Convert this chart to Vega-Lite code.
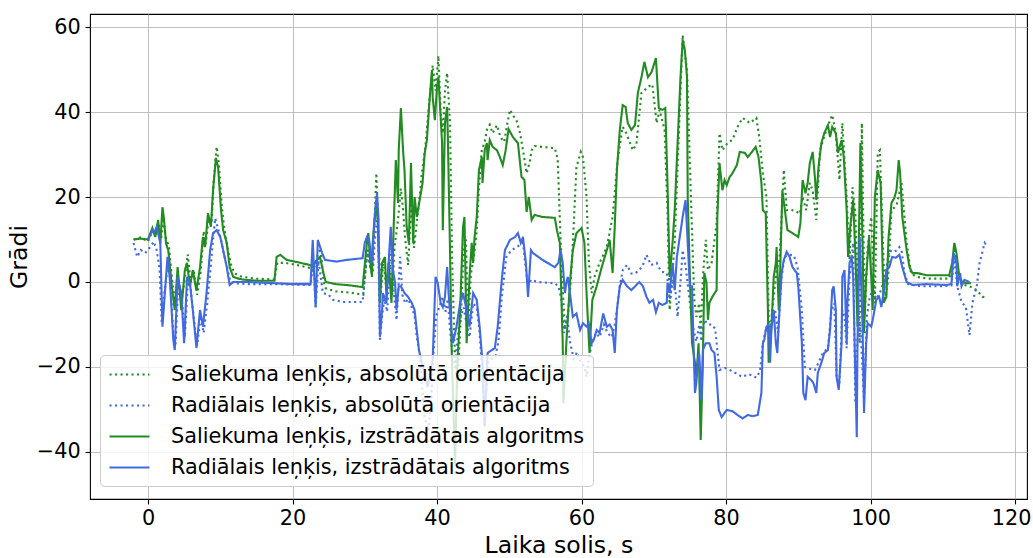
{
  "$schema": "https://vega.github.io/schema/vega-lite/v6.json",
  "width": 937,
  "height": 485,
  "autosize": {"type": "none"},
  "padding": {"left": 90, "top": 14, "right": 6, "bottom": 59},
  "background": "white",
  "config": {
    "font": "DejaVu Sans",
    "view": {"stroke": "#000000", "strokeWidth": 1.1},
    "axis": {
      "grid": true, "gridColor": "#b0b0b0", "gridWidth": 0.8, "domain": false,
      "tickColor": "#000000", "tickWidth": 1.1, "tickSize": 4.9, "labelPadding": 4.9,
      "labelFontSize": 20.8, "labelColor": "#000000", "labelFont": "DejaVu Sans",
      "titleFont": "DejaVu Sans", "titleFontSize": 23.6, "titleFontWeight": "normal",
      "titleColor": "#000000", "titlePadding": 5
    }
  },
  "datasets": {
    "gd": [
      {"t":-2,"v":10},{"t":-1,"v":10.5},{"t":0,"v":9.5},{"t":0.6,"v":12},{"t":1,"v":11},{"t":1.5,"v":13.5},{"t":1.8,"v":10},{"t":2.1,"v":15},{"t":2.5,"v":10},{"t":2.9,"v":8.5},{"t":3.3,"v":1},{"t":3.7,"v":-5},{"t":4.1,"v":2},{"t":4.6,"v":-5},{"t":5.1,"v":1},{"t":5.5,"v":6.5},{"t":5.9,"v":0},{"t":6.3,"v":3},{"t":6.8,"v":-3},{"t":7.3,"v":2.5},{"t":7.7,"v":12},{"t":8.0,"v":9},{"t":8.4,"v":15},{"t":8.8,"v":14},{"t":9.1,"v":24},{"t":9.5,"v":31.8},{"t":9.8,"v":28},{"t":10.2,"v":18},{"t":10.6,"v":12},{"t":11.0,"v":8},{"t":11.5,"v":4},{"t":12,"v":2},{"t":13,"v":1.2},{"t":15,"v":0.8},{"t":17.5,"v":0.6},{"t":17.9,"v":4.5},{"t":19,"v":4.5},{"t":20.6,"v":4},{"t":22.4,"v":3.3},{"t":22.9,"v":2.5},{"t":23.4,"v":6},{"t":23.9,"v":8},{"t":24.3,"v":0},{"t":24.6,"v":-1.5},{"t":26,"v":-2.2},{"t":28,"v":-2.5},{"t":29.8,"v":-3},{"t":30.4,"v":8},{"t":30.7,"v":4},{"t":31.0,"v":2},{"t":31.3,"v":12},{"t":31.6,"v":25.6},{"t":31.9,"v":12},{"t":32.2,"v":-3},{"t":32.6,"v":5},{"t":33.0,"v":-2},{"t":33.4,"v":5},{"t":33.8,"v":-3},{"t":34.1,"v":8},{"t":34.6,"v":14.6},{"t":35.0,"v":22},{"t":35.3,"v":17},{"t":35.6,"v":10},{"t":36.0,"v":4},{"t":36.5,"v":20},{"t":36.8,"v":8},{"t":37.2,"v":14},{"t":37.6,"v":20},{"t":37.9,"v":25.6},{"t":38.4,"v":32},{"t":38.8,"v":40},{"t":39.4,"v":51},{"t":39.8,"v":45},{"t":40.2,"v":53.2},{"t":40.5,"v":40},{"t":40.8,"v":35},{"t":41.1,"v":45},{"t":41.4,"v":49.2},{"t":41.8,"v":37.4},{"t":42.1,"v":5},{"t":42.4,"v":-14},{"t":42.8,"v":-25},{"t":43.3,"v":-8},{"t":43.7,"v":8},{"t":44.0,"v":10},{"t":44.3,"v":-10},{"t":44.7,"v":2},{"t":45.1,"v":6},{"t":45.5,"v":12},{"t":45.8,"v":22},{"t":46.2,"v":31},{"t":46.6,"v":33},{"t":46.9,"v":35.8},{"t":47.3,"v":37},{"t":47.7,"v":35},{"t":48.3,"v":36.9},{"t":48.8,"v":34},{"t":49.3,"v":33},{"t":49.7,"v":37},{"t":50.1,"v":40.5},{"t":50.6,"v":39},{"t":51.0,"v":38},{"t":51.5,"v":35},{"t":52.0,"v":30},{"t":52.4,"v":25.6},{"t":52.8,"v":28},{"t":53.1,"v":31},{"t":53.5,"v":32},{"t":54.5,"v":31.8},{"t":56.3,"v":31.5},{"t":56.7,"v":29},{"t":57.0,"v":15},{"t":57.3,"v":1.2},{"t":57.7,"v":-10.5},{"t":58.1,"v":-8},{"t":58.5,"v":0},{"t":58.8,"v":9.2},{"t":59.3,"v":27},{"t":59.9,"v":30.6},{"t":60.2,"v":29.4},{"t":60.7,"v":20},{"t":61.0,"v":5.2},{"t":61.4,"v":-2.6},{"t":61.8,"v":1.2},{"t":62.5,"v":4.5},{"t":63.5,"v":8.2},{"t":64.3,"v":15.3},{"t":65.0,"v":28.7},{"t":65.7,"v":36.5},{"t":66.2,"v":35},{"t":67.1,"v":31},{"t":67.6,"v":32.5},{"t":68.3,"v":44.5},{"t":69.2,"v":45.9},{"t":69.8,"v":46.5},{"t":70.4,"v":37.4},{"t":70.8,"v":40.5},{"t":71.5,"v":35.8},{"t":71.9,"v":16.9},{"t":72.2,"v":-6.6},{"t":72.9,"v":9.2},{"t":73.6,"v":40.5},{"t":74.0,"v":58.1},{"t":74.6,"v":49.9},{"t":75.2,"v":16.9},{"t":75.6,"v":-4},{"t":75.9,"v":-8.2},{"t":76.3,"v":-5},{"t":76.5,"v":-12},{"t":76.8,"v":1.2},{"t":77.2,"v":9.9},{"t":77.5,"v":2.8},{"t":78.0,"v":4.5},{"t":78.7,"v":13.9},{"t":79.1,"v":35},{"t":79.5,"v":31},{"t":80.2,"v":32.7},{"t":80.9,"v":33.5},{"t":81.6,"v":36.5},{"t":82.3,"v":38.6},{"t":83.3,"v":37.4},{"t":84.2,"v":38.6},{"t":84.6,"v":34.1},{"t":85.1,"v":25.6},{"t":85.6,"v":20},{"t":85.8,"v":1.2},{"t":86.0,"v":-14.4},{"t":86.4,"v":-6.6},{"t":87.0,"v":2.8},{"t":87.4,"v":5.2},{"t":87.7,"v":15.3},{"t":88.0,"v":26.4},{"t":88.4,"v":16.9},{"t":89.0,"v":17},{"t":89.8,"v":16.5},{"t":90.2,"v":16},{"t":90.6,"v":20},{"t":91.1,"v":16.9},{"t":91.6,"v":23.3},{"t":92.0,"v":21.5},{"t":92.5,"v":14.6},{"t":93.0,"v":31},{"t":93.9,"v":35.8},{"t":94.7,"v":39.3},{"t":95.2,"v":35},{"t":95.7,"v":24},{"t":96.1,"v":37.4},{"t":96.7,"v":20},{"t":97.1,"v":5.2},{"t":97.5,"v":22.3},{"t":97.9,"v":16},{"t":98.5,"v":-14.4},{"t":98.8,"v":37.4},{"t":99.2,"v":-8},{"t":99.6,"v":8},{"t":100.1,"v":15.3},{"t":100.6,"v":-5},{"t":101.0,"v":30.4},{"t":101.3,"v":31},{"t":101.7,"v":10},{"t":102.0,"v":-4},{"t":102.4,"v":0},{"t":102.9,"v":16.9},{"t":103.6,"v":18},{"t":104.3,"v":23.3},{"t":105.0,"v":9.2},{"t":105.6,"v":2},{"t":106.4,"v":1.2},{"t":108,"v":0.8},{"t":110.9,"v":0.8},{"t":111.3,"v":4},{"t":111.6,"v":8.2},{"t":112.0,"v":2},{"t":112.6,"v":-0.5},{"t":113.7,"v":-1},{"t":114.7,"v":-1.9},{"t":115.5,"v":-3.5},{"t":116.2,"v":-3.6}
    ],
    "bd": [
      {"t":-2,"v":9.2},{"t":-1.5,"v":5.9},{"t":-1,"v":7.5},{"t":-0.4,"v":6.8},{"t":0.3,"v":8.2},{"t":0.8,"v":9.5},{"t":1.2,"v":7.5},{"t":1.6,"v":3},{"t":1.9,"v":-9.7},{"t":2.3,"v":-2},{"t":2.8,"v":4.5},{"t":3.1,"v":0},{"t":3.5,"v":-12},{"t":3.8,"v":-15},{"t":4.2,"v":0},{"t":4.7,"v":-4},{"t":5.1,"v":-13},{"t":5.5,"v":0},{"t":5.9,"v":-1.5},{"t":6.3,"v":-8},{"t":6.8,"v":-15},{"t":7.3,"v":-8},{"t":7.7,"v":-12},{"t":8.2,"v":-5},{"t":8.7,"v":4},{"t":9.0,"v":10},{"t":9.3,"v":15},{"t":9.7,"v":12.5},{"t":10.1,"v":10},{"t":10.5,"v":6.5},{"t":11.0,"v":3},{"t":11.4,"v":0},{"t":12,"v":-0.3},{"t":14,"v":-0.5},{"t":17.6,"v":-0.5},{"t":20,"v":-0.6},{"t":22.5,"v":-0.7},{"t":22.9,"v":5},{"t":23.2,"v":-6},{"t":23.6,"v":5},{"t":24.2,"v":-2.6},{"t":25,"v":-3},{"t":25.6,"v":-4.2},{"t":27,"v":-4.7},{"t":29.7,"v":-4.7},{"t":30.1,"v":3},{"t":30.4,"v":7},{"t":30.8,"v":3},{"t":31.1,"v":2},{"t":31.4,"v":10},{"t":31.8,"v":16},{"t":32.1,"v":-14},{"t":32.4,"v":-8},{"t":32.7,"v":-4},{"t":33.1,"v":-7},{"t":33.4,"v":2},{"t":33.7,"v":8},{"t":34.0,"v":-2},{"t":34.4,"v":-9},{"t":34.9,"v":5.9},{"t":35.2,"v":-3},{"t":35.6,"v":-5},{"t":36.0,"v":-4},{"t":36.5,"v":-6},{"t":36.9,"v":-8},{"t":37.2,"v":-13},{"t":37.5,"v":-16},{"t":37.9,"v":-24},{"t":38.3,"v":-32},{"t":38.8,"v":-35},{"t":39.2,"v":-28},{"t":39.5,"v":-17},{"t":39.9,"v":-8},{"t":40.3,"v":-6},{"t":40.8,"v":-3.5},{"t":41.2,"v":-7},{"t":41.5,"v":-4},{"t":41.8,"v":-11.3},{"t":42.1,"v":-16},{"t":42.5,"v":-20},{"t":42.9,"v":-12},{"t":43.3,"v":-8},{"t":43.7,"v":-6},{"t":44.1,"v":-10},{"t":44.5,"v":-13},{"t":45.0,"v":-5},{"t":45.5,"v":-6},{"t":45.9,"v":-12},{"t":46.3,"v":-22},{"t":46.6,"v":-34},{"t":47.0,"v":-19},{"t":47.6,"v":-18},{"t":48.1,"v":-17.5},{"t":48.5,"v":-14},{"t":49.0,"v":-3},{"t":49.6,"v":5.9},{"t":50.3,"v":7.5},{"t":51.0,"v":8.2},{"t":51.9,"v":9.2},{"t":52.3,"v":3},{"t":52.6,"v":-1},{"t":53.0,"v":0.5},{"t":54,"v":0},{"t":56.3,"v":-0.3},{"t":56.8,"v":-1},{"t":57.2,"v":-4},{"t":57.6,"v":-12},{"t":58.0,"v":-8},{"t":58.4,"v":-14},{"t":58.9,"v":-18},{"t":59.4,"v":-16.5},{"t":59.9,"v":-19},{"t":60.4,"v":-20},{"t":60.7,"v":-22.3},{"t":61.0,"v":-18},{"t":61.5,"v":-14},{"t":62.0,"v":-12},{"t":62.5,"v":-13},{"t":63.1,"v":-10},{"t":63.6,"v":-12},{"t":64.2,"v":-13},{"t":64.6,"v":-10},{"t":64.9,"v":-6.6},{"t":65.3,"v":-1},{"t":65.7,"v":2.8},{"t":66.3,"v":4},{"t":66.9,"v":2},{"t":67.4,"v":2},{"t":68.0,"v":2.8},{"t":68.5,"v":4},{"t":69.0,"v":6.4},{"t":69.6,"v":4},{"t":70.4,"v":4.5},{"t":71.0,"v":2.5},{"t":71.8,"v":2.1},{"t":72.2,"v":-4.2},{"t":72.6,"v":0},{"t":73.0,"v":-2},{"t":73.3,"v":-8.2},{"t":73.7,"v":0},{"t":74.0,"v":7.5},{"t":74.4,"v":4},{"t":74.8,"v":-2},{"t":75.2,"v":-8},{"t":75.6,"v":-12},{"t":75.9,"v":-14},{"t":76.3,"v":-10},{"t":76.6,"v":-14},{"t":77.0,"v":-8.9},{"t":77.5,"v":-10},{"t":78.0,"v":-10},{"t":78.5,"v":-11},{"t":78.8,"v":-16},{"t":79.1,"v":-20.7},{"t":79.8,"v":-20.2},{"t":80.5,"v":-20.7},{"t":81.4,"v":-21.5},{"t":82.2,"v":-22.3},{"t":83.2,"v":-21.7},{"t":84.2,"v":-22.5},{"t":84.7,"v":-21},{"t":85.1,"v":-14.4},{"t":85.6,"v":-10.5},{"t":86.1,"v":-11.5},{"t":86.4,"v":-9},{"t":86.8,"v":-6.6},{"t":87.2,"v":-12},{"t":87.7,"v":1.2},{"t":88.1,"v":5.9},{"t":88.8,"v":6.4},{"t":89.4,"v":6.2},{"t":89.9,"v":3.5},{"t":90.5,"v":-6.6},{"t":90.9,"v":-20},{"t":91.6,"v":-20.4},{"t":92.3,"v":-20.7},{"t":92.8,"v":-19},{"t":93.4,"v":-16.7},{"t":94.1,"v":-15.6},{"t":94.6,"v":-6.6},{"t":95.0,"v":-5},{"t":95.3,"v":-22.3},{"t":95.7,"v":-24},{"t":96.1,"v":-6.6},{"t":96.4,"v":-8},{"t":96.7,"v":-15.6},{"t":97.1,"v":1.2},{"t":97.6,"v":9.2},{"t":97.9,"v":-28.5},{"t":98.2,"v":-13},{"t":98.6,"v":-10},{"t":99.1,"v":-27.8},{"t":99.5,"v":-8},{"t":99.9,"v":-3.5},{"t":100.3,"v":-2},{"t":100.8,"v":-4},{"t":101.3,"v":-2.6},{"t":102.0,"v":1},{"t":102.6,"v":7.5},{"t":103.1,"v":7},{"t":103.7,"v":7.5},{"t":104.0,"v":8.2},{"t":104.3,"v":7.5},{"t":104.7,"v":2.1},{"t":105.2,"v":-0.5},{"t":106.9,"v":-1},{"t":109.7,"v":-1},{"t":111.2,"v":-0.8},{"t":111.6,"v":5.9},{"t":112.0,"v":-1},{"t":112.6,"v":-4.7},{"t":113.2,"v":-5.9},{"t":113.7,"v":-12.5},{"t":114.1,"v":-4.9},{"t":114.7,"v":-1},{"t":115.1,"v":4.5},{"t":115.8,"v":9.2},{"t":116.1,"v":8.5}
    ],
    "gs": [
      {"t":-2,"v":10},{"t":-1,"v":10.2},{"t":0,"v":10},{"t":0.6,"v":12.7},{"t":1,"v":10.6},{"t":1.4,"v":14.6},{"t":1.7,"v":9},{"t":2.0,"v":17.6},{"t":2.2,"v":15},{"t":2.5,"v":9},{"t":2.8,"v":7.5},{"t":3.3,"v":-1},{"t":3.7,"v":-6.6},{"t":4.1,"v":3.5},{"t":4.6,"v":-6.6},{"t":5.1,"v":2.8},{"t":5.4,"v":4.5},{"t":5.8,"v":-1},{"t":6.2,"v":2.8},{"t":6.7,"v":-2},{"t":7.2,"v":3.5},{"t":7.6,"v":10.6},{"t":7.9,"v":8.2},{"t":8.3,"v":16.2},{"t":8.7,"v":13},{"t":9.0,"v":21.6},{"t":9.4,"v":29.2},{"t":9.7,"v":27},{"t":10.1,"v":17},{"t":10.4,"v":12.2},{"t":10.9,"v":9.2},{"t":11.3,"v":3.5},{"t":11.8,"v":1.2},{"t":12.3,"v":0.9},{"t":13,"v":0.6},{"t":15,"v":0.3},{"t":17.5,"v":0.3},{"t":17.8,"v":5.9},{"t":18.3,"v":6.4},{"t":19.2,"v":5.2},{"t":20.6,"v":4.7},{"t":22.4,"v":4},{"t":22.8,"v":3.5},{"t":23.3,"v":5},{"t":23.8,"v":5.9},{"t":24.3,"v":2},{"t":24.6,"v":0},{"t":26,"v":-0.5},{"t":28,"v":-0.8},{"t":29.7,"v":-1.2},{"t":30.3,"v":9.2},{"t":30.5,"v":11.5},{"t":30.7,"v":5.9},{"t":31,"v":1.2},{"t":31.1,"v":9.2},{"t":31.6,"v":19.3},{"t":31.8,"v":13.9},{"t":32.1,"v":-4.9},{"t":32.4,"v":4.5},{"t":32.8,"v":5.9},{"t":33.0,"v":-3.5},{"t":33.3,"v":4.5},{"t":33.7,"v":-4.9},{"t":34.0,"v":13},{"t":34.3,"v":28.7},{"t":34.6,"v":18.6},{"t":34.7,"v":31},{"t":35.0,"v":40.9},{"t":35.3,"v":31},{"t":35.5,"v":26.3},{"t":35.8,"v":13},{"t":36.1,"v":9.2},{"t":36.4,"v":28},{"t":36.7,"v":9.2},{"t":36.9,"v":20},{"t":37.2,"v":15.3},{"t":37.6,"v":19.3},{"t":38.0,"v":23.3},{"t":38.3,"v":30.4},{"t":38.6,"v":33.4},{"t":39.0,"v":43.5},{"t":39.3,"v":49.9},{"t":39.4,"v":43.5},{"t":39.7,"v":38.1},{"t":40.0,"v":45.9},{"t":40.2,"v":48.2},{"t":40.7,"v":32.7},{"t":40.8,"v":12.2},{"t":41.1,"v":37.4},{"t":41.4,"v":41.2},{"t":41.5,"v":34.1},{"t":41.8,"v":7.5},{"t":42.0,"v":-14.4},{"t":42.5,"v":-43},{"t":42.8,"v":-20},{"t":43.2,"v":-6.6},{"t":43.6,"v":13},{"t":43.8,"v":15.3},{"t":44.1,"v":-14.4},{"t":44.5,"v":1.2},{"t":44.8,"v":9.2},{"t":45.0,"v":4.5},{"t":45.2,"v":10.6},{"t":45.5,"v":15.3},{"t":45.8,"v":26.3},{"t":46.2,"v":29.4},{"t":46.3,"v":23.3},{"t":46.6,"v":31},{"t":46.9,"v":32.7},{"t":47.0,"v":28.7},{"t":47.3,"v":33.4},{"t":47.7,"v":31.8},{"t":48.3,"v":31},{"t":48.7,"v":29.4},{"t":49.1,"v":27.5},{"t":49.5,"v":31},{"t":49.9,"v":36},{"t":50.5,"v":34.1},{"t":51.2,"v":32.7},{"t":51.7,"v":24.7},{"t":52.1,"v":24},{"t":52.4,"v":16.5},{"t":52.7,"v":20},{"t":53.1,"v":14.6},{"t":53.5,"v":15.8},{"t":54.6,"v":15.3},{"t":56.3,"v":15.1},{"t":56.6,"v":12.2},{"t":57.0,"v":9.2},{"t":57.4,"v":-14.4},{"t":57.5,"v":-28.5},{"t":57.9,"v":-14.4},{"t":58.4,"v":-0.2},{"t":58.8,"v":7.5},{"t":59.3,"v":11.5},{"t":60.0,"v":12.7},{"t":60.4,"v":9.2},{"t":60.7,"v":-2.6},{"t":61.1,"v":-16.7},{"t":61.5,"v":-4.2},{"t":62.1,"v":-1},{"t":62.8,"v":3.5},{"t":63.5,"v":7.5},{"t":63.9,"v":9.9},{"t":64.3,"v":2.1},{"t":64.6,"v":13},{"t":64.9,"v":26.4},{"t":65.3,"v":35.8},{"t":65.7,"v":41.6},{"t":66.1,"v":41.2},{"t":66.4,"v":37.4},{"t":66.9,"v":35.8},{"t":67.4,"v":36.9},{"t":67.8,"v":44.5},{"t":68.3,"v":48.2},{"t":68.7,"v":51.8},{"t":69.2,"v":48.2},{"t":69.7,"v":49.4},{"t":70.3,"v":52.7},{"t":70.7,"v":40.9},{"t":71.2,"v":40.5},{"t":71.6,"v":40.9},{"t":71.9,"v":23.3},{"t":72.2,"v":1.2},{"t":72.6,"v":9.2},{"t":72.9,"v":16.9},{"t":73.3,"v":32.7},{"t":73.7,"v":48.2},{"t":74.0,"v":56.9},{"t":74.3,"v":54.6},{"t":74.6,"v":48.2},{"t":74.7,"v":20},{"t":75.0,"v":1.2},{"t":75.3,"v":-14.4},{"t":75.7,"v":-19},{"t":75.9,"v":-22.3},{"t":76.2,"v":-14.4},{"t":76.5,"v":-37.2},{"t":76.8,"v":-18.4},{"t":77.0,"v":2.1},{"t":77.3,"v":-0.2},{"t":77.5,"v":-8.9},{"t":77.7,"v":-4.9},{"t":78.1,"v":-3.5},{"t":78.7,"v":-1.9},{"t":78.8,"v":15.3},{"t":79.1,"v":28},{"t":79.5,"v":21.6},{"t":79.8,"v":24},{"t":80.1,"v":22.8},{"t":80.5,"v":24.7},{"t":80.9,"v":25.6},{"t":81.5,"v":27.5},{"t":81.9,"v":30.6},{"t":82.6,"v":30.4},{"t":83.0,"v":29.4},{"t":83.5,"v":30.4},{"t":84.1,"v":31.8},{"t":84.5,"v":29.4},{"t":84.9,"v":23.3},{"t":85.1,"v":16.9},{"t":85.5,"v":16.2},{"t":85.8,"v":-6.6},{"t":85.9,"v":-19},{"t":86.3,"v":-10.5},{"t":86.6,"v":1.2},{"t":86.9,"v":4.5},{"t":87.0,"v":8.2},{"t":87.3,"v":-6.6},{"t":87.5,"v":2.8},{"t":87.8,"v":21.6},{"t":88.2,"v":16.2},{"t":88.5,"v":12.2},{"t":89.2,"v":11.5},{"t":90.0,"v":10.6},{"t":90.3,"v":13.9},{"t":90.6,"v":24},{"t":91.0,"v":20.9},{"t":91.3,"v":23.3},{"t":91.6,"v":28},{"t":92.0,"v":30.6},{"t":92.3,"v":24.7},{"t":92.5,"v":19.3},{"t":92.8,"v":27},{"t":93.2,"v":32.7},{"t":93.6,"v":35},{"t":94.1,"v":36.9},{"t":94.4,"v":34.1},{"t":94.7,"v":36.5},{"t":95.2,"v":35},{"t":95.5,"v":30.4},{"t":96.0,"v":33.4},{"t":96.3,"v":29.4},{"t":96.7,"v":16.9},{"t":96.9,"v":5.9},{"t":97.2,"v":13},{"t":97.6,"v":19.3},{"t":97.9,"v":6.8},{"t":98.2,"v":-10.5},{"t":98.6,"v":32.7},{"t":98.9,"v":9.2},{"t":99.1,"v":-12},{"t":99.4,"v":1.2},{"t":99.8,"v":10.6},{"t":100.1,"v":1.2},{"t":100.3,"v":-6.6},{"t":100.6,"v":20},{"t":101.0,"v":26.3},{"t":101.4,"v":23.3},{"t":101.8,"v":-4.9},{"t":102.2,"v":-3.5},{"t":102.5,"v":10.6},{"t":102.9,"v":18.6},{"t":103.3,"v":19.8},{"t":103.6,"v":21.6},{"t":103.9,"v":28.7},{"t":104.1,"v":25.6},{"t":104.4,"v":15.3},{"t":105.0,"v":7.5},{"t":105.4,"v":3.5},{"t":105.8,"v":2.1},{"t":106.5,"v":2.1},{"t":107.7,"v":1.6},{"t":109.1,"v":1.6},{"t":110.9,"v":1.6},{"t":111.3,"v":4.5},{"t":111.6,"v":9.2},{"t":111.9,"v":6.8},{"t":112.3,"v":1.2},{"t":112.7,"v":0},{"t":113.3,"v":-0.3},{"t":113.9,"v":-0.3}
    ],
    "bs": [
      {"t":0,"v":10},{"t":0.6,"v":12.2},{"t":0.9,"v":11.8},{"t":1.2,"v":13},{"t":1.7,"v":9.2},{"t":2.0,"v":-10.5},{"t":2.4,"v":-1},{"t":2.7,"v":5.9},{"t":3.0,"v":1.2},{"t":3.5,"v":-13.6},{"t":3.7,"v":-16},{"t":4.1,"v":1.2},{"t":4.6,"v":-2.6},{"t":5.0,"v":-14.4},{"t":5.4,"v":1.2},{"t":5.8,"v":-0.2},{"t":6.2,"v":-6.6},{"t":6.7,"v":-15.5},{"t":7.2,"v":-6.6},{"t":7.6,"v":-10.5},{"t":8.1,"v":-2.6},{"t":8.6,"v":7.5},{"t":9.0,"v":11.5},{"t":9.5,"v":12.2},{"t":10.0,"v":10.6},{"t":10.4,"v":7.5},{"t":10.9,"v":3.5},{"t":11.3,"v":-0.7},{"t":11.8,"v":0},{"t":14,"v":0},{"t":17.6,"v":-0.3},{"t":20,"v":-0.5},{"t":22.5,"v":-0.5},{"t":22.8,"v":9.9},{"t":23.2,"v":-5.9},{"t":23.5,"v":9.9},{"t":24.1,"v":6.8},{"t":24.5,"v":5.2},{"t":26.1,"v":4.8},{"t":27.5,"v":5.2},{"t":29.7,"v":5.6},{"t":30.0,"v":9.2},{"t":30.3,"v":10.6},{"t":30.6,"v":10},{"t":31.0,"v":4.5},{"t":31.3,"v":13.9},{"t":31.7,"v":20.9},{"t":31.9,"v":15},{"t":32.1,"v":-12.9},{"t":32.4,"v":-6.6},{"t":32.5,"v":-2.6},{"t":33.0,"v":-4.9},{"t":33.3,"v":4.5},{"t":33.6,"v":13},{"t":33.9,"v":2.8},{"t":34.2,"v":-0.2},{"t":34.4,"v":-6.6},{"t":34.7,"v":-1},{"t":35.0,"v":-1},{"t":35.5,"v":-2.6},{"t":36.0,"v":-3.5},{"t":36.5,"v":-4.9},{"t":36.9,"v":-6.6},{"t":37.2,"v":-11.3},{"t":37.5,"v":-16},{"t":37.9,"v":-19},{"t":38.3,"v":-22},{"t":38.7,"v":-24.7},{"t":39.4,"v":-18.4},{"t":39.8,"v":1.2},{"t":40.1,"v":-0.2},{"t":40.5,"v":-4.9},{"t":40.8,"v":-5.9},{"t":41.1,"v":-3.5},{"t":41.4,"v":3.5},{"t":41.6,"v":-2.6},{"t":42.0,"v":-11.3},{"t":42.2,"v":-14.4},{"t":42.7,"v":-10.5},{"t":43.2,"v":-4.9},{"t":43.6,"v":-2.6},{"t":44.1,"v":-6.6},{"t":44.5,"v":-10.5},{"t":45.0,"v":-2.6},{"t":45.5,"v":-4.2},{"t":45.9,"v":-10.5},{"t":46.3,"v":-19},{"t":46.6,"v":-34},{"t":47.0,"v":-16.7},{"t":47.6,"v":-16},{"t":48.0,"v":-15.6},{"t":48.4,"v":-10.5},{"t":49.0,"v":1.2},{"t":49.4,"v":7.5},{"t":50.1,"v":9.9},{"t":50.8,"v":10.6},{"t":51.2,"v":11.5},{"t":51.6,"v":9.2},{"t":51.9,"v":10.6},{"t":52.3,"v":4.5},{"t":52.6,"v":-3.5},{"t":53.0,"v":7.5},{"t":53.3,"v":6.8},{"t":54.6,"v":5.2},{"t":56.3,"v":3.5},{"t":56.8,"v":4.5},{"t":57.1,"v":7.5},{"t":57.4,"v":4.5},{"t":57.7,"v":-2.6},{"t":57.9,"v":-0.2},{"t":58.1,"v":1.2},{"t":58.4,"v":-2.6},{"t":58.8,"v":-8.2},{"t":59.3,"v":-7.4},{"t":59.8,"v":-11.3},{"t":60.2,"v":-9.7},{"t":60.7,"v":-10.5},{"t":61.0,"v":-9.7},{"t":61.4,"v":-14.4},{"t":61.7,"v":-13.6},{"t":62.1,"v":-11.3},{"t":62.5,"v":-12},{"t":63.0,"v":-7.4},{"t":63.5,"v":-10.5},{"t":63.9,"v":-10},{"t":64.3,"v":-11.3},{"t":64.6,"v":-16.7},{"t":64.9,"v":-6.6},{"t":65.3,"v":-1},{"t":65.7,"v":0.5},{"t":66.3,"v":-1},{"t":66.9,"v":-1.9},{"t":67.6,"v":-0.7},{"t":68.0,"v":0},{"t":68.5,"v":-1},{"t":69.0,"v":-3.5},{"t":69.4,"v":-4.9},{"t":69.9,"v":-4.2},{"t":70.3,"v":-7.1},{"t":70.7,"v":-4.9},{"t":71.2,"v":-5.4},{"t":71.8,"v":-4.9},{"t":71.9,"v":-0.2},{"t":72.2,"v":-2.6},{"t":72.6,"v":4.5},{"t":72.9,"v":-1.9},{"t":73.2,"v":5.9},{"t":73.6,"v":10.6},{"t":74.0,"v":15.3},{"t":74.4,"v":19.3},{"t":74.7,"v":9.2},{"t":75.0,"v":-1},{"t":75.3,"v":-1},{"t":75.5,"v":-14.4},{"t":75.7,"v":-26.1},{"t":75.9,"v":-23.8},{"t":76.1,"v":-18.4},{"t":76.3,"v":-17},{"t":76.6,"v":-27.8},{"t":76.8,"v":-16},{"t":77.2,"v":-14.4},{"t":77.7,"v":-14.4},{"t":78.0,"v":-16},{"t":78.4,"v":-16.7},{"t":78.7,"v":-22.3},{"t":79.0,"v":-30.1},{"t":79.4,"v":-31.8},{"t":80.1,"v":-30.1},{"t":80.9,"v":-30.4},{"t":81.6,"v":-31.3},{"t":82.3,"v":-32.1},{"t":83.0,"v":-31.3},{"t":83.7,"v":-31.6},{"t":84.4,"v":-31.3},{"t":84.9,"v":-26.1},{"t":85.1,"v":-14.4},{"t":85.3,"v":-13.6},{"t":85.6,"v":-10.5},{"t":85.9,"v":-10},{"t":86.1,"v":-19},{"t":86.3,"v":-10.5},{"t":86.6,"v":-6.6},{"t":86.9,"v":-14.4},{"t":87.1,"v":-16.7},{"t":87.4,"v":-6.6},{"t":87.7,"v":2.1},{"t":88.0,"v":5.2},{"t":88.4,"v":7.1},{"t":88.8,"v":5.9},{"t":89.2,"v":3.5},{"t":89.8,"v":2.1},{"t":90.0,"v":-1},{"t":90.5,"v":-14.4},{"t":90.7,"v":-26.1},{"t":91.0,"v":-27.8},{"t":91.3,"v":-22.3},{"t":91.8,"v":-23.1},{"t":92.1,"v":-23.8},{"t":92.5,"v":-26.1},{"t":92.7,"v":-21.4},{"t":93.2,"v":-19},{"t":93.6,"v":-16.7},{"t":94.1,"v":-16},{"t":94.4,"v":-11.3},{"t":94.7,"v":-1.9},{"t":94.9,"v":-1},{"t":95.2,"v":-6.6},{"t":95.3,"v":-22.3},{"t":95.6,"v":-25.4},{"t":96.0,"v":-14.4},{"t":96.1,"v":1.2},{"t":96.4,"v":2.8},{"t":96.7,"v":-14.4},{"t":96.8,"v":-4.9},{"t":97.1,"v":4.5},{"t":97.4,"v":5.9},{"t":97.6,"v":1.2},{"t":97.8,"v":-14.4},{"t":98.1,"v":-36.5},{"t":98.2,"v":-14},{"t":98.5,"v":10.6},{"t":98.9,"v":-10.5},{"t":99.1,"v":-30.8},{"t":99.4,"v":-14.4},{"t":99.6,"v":-9.7},{"t":100.1,"v":-10.5},{"t":100.3,"v":-9},{"t":100.8,"v":-4.2},{"t":101.2,"v":-3.5},{"t":101.5,"v":-5.9},{"t":101.8,"v":-2.6},{"t":102.2,"v":2.8},{"t":102.6,"v":3.5},{"t":103.0,"v":5.9},{"t":103.5,"v":5.7},{"t":104.0,"v":6.4},{"t":104.4,"v":3.5},{"t":105.0,"v":0},{"t":105.8,"v":-0.7},{"t":107.7,"v":-0.5},{"t":110.5,"v":-0.7},{"t":111.2,"v":-0.5},{"t":111.5,"v":6.8},{"t":111.9,"v":4.5},{"t":112.0,"v":-1},{"t":112.4,"v":2.1},{"t":112.6,"v":-1},{"t":113.0,"v":0.5},{"t":113.7,"v":0}
    ]
  },
  "encoding": {
    "x": {"field": "t", "type": "quantitative", "scale": {"domain": [-8.03, 121.66], "nice": false, "zero": false}, "axis": {"values": [0, 20, 40, 60, 80, 100, 120], "title": "Laika solis, s", "labelFlush": 15, "labelFlushOffset": 16}},
    "y": {"field": "v", "type": "quantitative", "scale": {"domain": [-51.06, 63.06], "nice": false, "zero": false}, "axis": {"values": [-40, -20, 0, 20, 40, 60], "title": "Grādi"}}
  },
  "layer": [
    {
      "data": {"name": "gd"},
      "mark": {"type": "line", "strokeWidth": 2.1},
      "encoding": {
        "color": {"datum": "Saliekuma leņķis, absolūtā orientācija", "type": "nominal",
          "scale": {"domain": ["Saliekuma leņķis, absolūtā orientācija", "Radiālais leņķis, absolūtā orientācija", "Saliekuma leņķis, izstrādātais algoritms", "Radiālais leņķis, izstrādātais algoritms"], "range": ["#228b22", "#4169e1", "#228b22", "#4169e1"]},
          "legend": {"title": null, "orient": "none", "legendX": 10, "legendY": 341, "symbolType": "M-2,0H2", "symbolSize": 400, "symbolStrokeWidth": 2.1, "symbolOffset": 10, "labelOffset": 30, "fillColor": "rgba(255,255,255,0.8)", "strokeColor": "#cccccc", "cornerRadius": 4, "padding": 8, "rowPadding": 9, "labelFontSize": 20.8, "labelFont": "DejaVu Sans", "labelColor": "#000000", "labelLimit": 0}},
        "strokeDash": {"datum": "Saliekuma leņķis, absolūtā orientācija", "type": "nominal",
          "scale": {"domain": ["Saliekuma leņķis, absolūtā orientācija", "Radiālais leņķis, absolūtā orientācija", "Saliekuma leņķis, izstrādātais algoritms", "Radiālais leņķis, izstrādātais algoritms"], "range": [[2.1, 3.4], [2.1, 3.4], [1, 0], [1, 0]]},
          "legend": {"title": null, "orient": "none", "legendX": 10, "legendY": 341, "symbolType": "M-2,0H2", "symbolSize": 400, "symbolStrokeWidth": 2.1, "symbolOffset": 10, "labelOffset": 30, "fillColor": "rgba(255,255,255,0.8)", "strokeColor": "#cccccc", "cornerRadius": 4, "padding": 8, "rowPadding": 9, "labelFontSize": 20.8, "labelFont": "DejaVu Sans", "labelColor": "#000000", "labelLimit": 0}}
      }
    },
    {
      "data": {"name": "bd"},
      "mark": {"type": "line", "strokeWidth": 2.1},
      "encoding": {
        "color": {"datum": "Radiālais leņķis, absolūtā orientācija", "type": "nominal"},
        "strokeDash": {"datum": "Radiālais leņķis, absolūtā orientācija", "type": "nominal"}
      }
    },
    {
      "data": {"name": "gs"},
      "mark": {"type": "line", "strokeWidth": 2.1},
      "encoding": {
        "color": {"datum": "Saliekuma leņķis, izstrādātais algoritms", "type": "nominal"},
        "strokeDash": {"datum": "Saliekuma leņķis, izstrādātais algoritms", "type": "nominal"}
      }
    },
    {
      "data": {"name": "bs"},
      "mark": {"type": "line", "strokeWidth": 2.1},
      "encoding": {
        "color": {"datum": "Radiālais leņķis, izstrādātais algoritms", "type": "nominal"},
        "strokeDash": {"datum": "Radiālais leņķis, izstrādātais algoritms", "type": "nominal"}
      }
    }
  ]
}
